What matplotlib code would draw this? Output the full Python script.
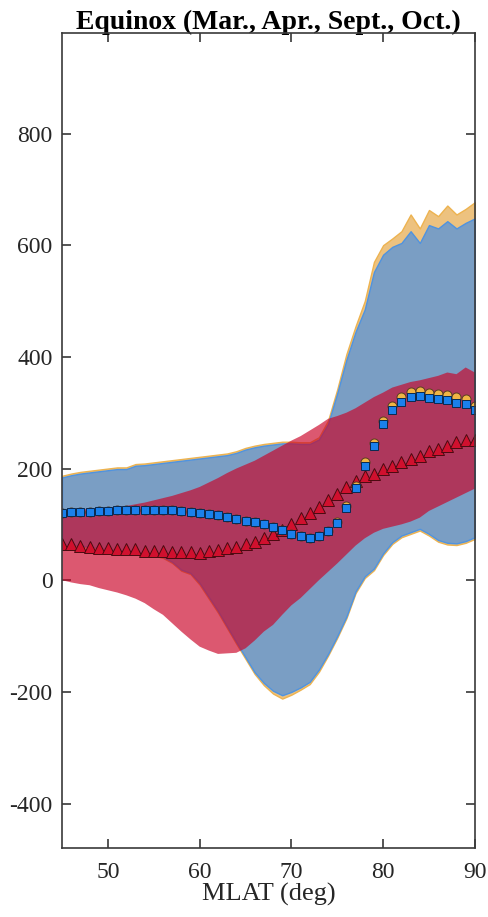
import numpy as np
import matplotlib
matplotlib.use("Agg")
import matplotlib.pyplot as plt

plt.rcParams['font.family'] = ['Liberation Serif', 'DejaVu Serif']
plt.rcParams['axes.unicode_minus'] = False

# magnetic latitude (deg), 1 deg bins
mlat = np.arange(45, 91)

# mean values per bin
blue_mean = [121, 122, 122, 123, 124, 124, 125, 126, 126, 126, 126, 126, 125, 124, 123, 121,
             119, 117, 114, 110, 106, 104, 101, 95, 90, 83, 80, 76, 80, 89, 103, 130,
             166, 205, 240, 280, 304, 320, 329, 330, 327, 324, 323, 318, 315, 304]
orange_mean = [121, 122, 122, 123, 124, 124, 125, 126, 126, 126, 126, 126, 125, 124, 123, 121,
               119, 117, 114, 110, 106, 104, 101, 95, 90, 83, 80, 76, 80, 89, 104, 133,
               169, 211, 246, 286, 312, 329, 337, 339, 336, 333, 332, 329, 324, 312]
red_mean = [65, 64, 61, 60, 58, 57, 56, 56, 55, 53, 52, 52, 51, 51, 50, 49,
            52, 54, 57, 60, 65, 68, 76, 82, 90, 100, 112, 120, 132, 143, 154, 167,
            177, 187, 190, 199, 204, 211, 217, 223, 231, 235, 241, 247, 251, 251]

# spread bands (lower / upper)
blue_lo = [65, 64, 62, 60, 58, 56, 54, 52, 51, 49, 46, 42, 33, 19, 13, -5,
           -30, -55, -83, -111, -138, -165, -184, -198, -206, -200, -192, -182, -160, -132, -100, -65,
           -20, 7, 21, 48, 68, 80, 86, 92, 83, 72, 67, 66, 70, 77]
blue_hi = [184, 188, 191, 193, 195, 197, 199, 199, 205, 206, 208, 210, 212, 214, 216, 218,
           220, 222, 224, 228, 234, 238, 241, 243, 245, 245, 244, 244, 252, 280, 335, 395,
           445, 485, 552, 583, 597, 604, 625, 604, 636, 630, 643, 630, 640, 648]
orange_lo = [63, 62, 60, 58, 56, 54, 52, 50, 49, 47, 44, 40, 31, 17, 11, -8,
             -33, -58, -86, -114, -141, -168, -188, -203, -212, -205, -196, -186, -164, -135, -103, -68,
             -23, 4, 18, 45, 65, 77, 83, 89, 80, 69, 64, 63, 67, 74]
orange_hi = [187, 191, 194, 196, 198, 200, 202, 202, 208, 209, 211, 213, 215, 217, 219, 221,
             223, 225, 227, 231, 237, 241, 244, 246, 248, 248, 247, 247, 256, 286, 342, 405,
             455, 500, 570, 600, 612, 625, 655, 630, 663, 652, 671, 655, 665, 677]
red_lo = [0, -4, -7, -9, -14, -18, -22, -27, -33, -41, -52, -62, -77, -92, -106, -119,
          -126, -132, -131, -130, -122, -108, -92, -80, -62, -45, -32, -16, 0, 15, 30, 46,
          62, 75, 85, 92, 96, 100, 105, 112, 124, 132, 140, 148, 156, 164]
red_hi = [120, 124, 126, 128, 129, 130, 131, 133, 136, 139, 143, 147, 151, 156, 161, 167,
          175, 183, 192, 200, 207, 214, 223, 232, 241, 250, 258, 268, 278, 289, 294, 300,
          308, 318, 328, 336, 345, 350, 355, 358, 362, 366, 372, 369, 381, 372]

fig = plt.figure(figsize=(4.89, 9.17), dpi=100)
ax = fig.add_axes([0.127, 0.075, 0.844, 0.889])

ax.fill_between(mlat, orange_lo, orange_hi, facecolor='#EDC27F', edgecolor='#EDB350', lw=1.0, zorder=1)
ax.fill_between(mlat, blue_lo, blue_hi, facecolor='#7A9EC4', edgecolor='#4F93E0', lw=1.0, zorder=2)
ax.fill_between(mlat, red_lo, red_hi, facecolor='#CA0226', edgecolor='none', alpha=0.66, zorder=3)

ax.plot(mlat, red_mean, '^', ms=8, mfc='#D0102E', mec='#4a0a10', mew=0.7, zorder=4)
ax.plot(mlat, orange_mean, 'o', ms=6.5, mfc='#F0B445', mec='#5a4020', mew=0.7, zorder=5)
ax.plot(mlat, blue_mean, 's', ms=6.3, mfc='#1A80EC', mec='#0a2a50', mew=0.7, zorder=6)

ax.set_xlim(45, 90)
ax.set_ylim(-480, 980)
ax.set_xticks([50, 60, 70, 80, 90])
ax.set_yticks([-400, -200, 0, 200, 400, 600, 800])
ax.tick_params(direction='in', top=True, right=True, length=6.5, width=1.1,
               labelsize=17, colors='#262626')
ax.tick_params(axis='y', pad=7)
ax.tick_params(axis='x', pad=10)
for sp in ax.spines.values():
    sp.set_color('#3a3a3a')
    sp.set_linewidth(1.2)
    sp.set_zorder(10)

ax.set_xlabel('MLAT (deg)', fontsize=19, color='#262626', labelpad=0)
ax.set_title('Equinox (Mar., Apr., Sept., Oct.)', fontsize=20, fontweight='bold', pad=3)

fig.savefig('out.png', dpi=100)
